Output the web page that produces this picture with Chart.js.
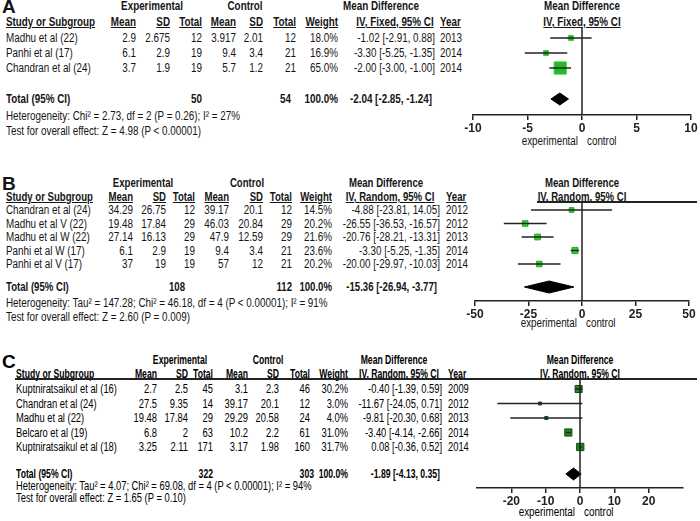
<!DOCTYPE html>
<html>
<head>
<meta charset="utf-8">
<script src="https://cdn.jsdelivr.net/npm/chart.js@4"></script>
<style>
  html, body { margin: 0; padding: 0; background: #fff; }
  #page { position: relative; width: 700px; height: 521px; overflow: hidden;
          font-family: 'Liberation Sans', Arial, sans-serif; color: #151515; }
  .t { position: absolute; white-space: nowrap; font-size: 12px; line-height: 14px; }
  .b { font-weight: bold; }
  .u { text-decoration: underline; }
  .rule { position: absolute; background: #222; }
  canvas { position: absolute; }
</style>
</head>
<body>
<div id="page"></div>
<script>
// ---- Panel A data (IV, Fixed) ----
const studiesA = ['Madhu et al (22)', 'Panhi et al  (17)', 'Chandran et al (24)'];
const expMeanA = [2.9, 6.1, 3.7];
const expSdA = [2.675, 2.9, 1.9];
const expNA = [12, 19, 19];
const ctlMeanA = [3.917, 9.4, 5.7];
const ctlSdA = [2.01, 3.4, 1.2];
const ctlNA = [12, 21, 21];
const weightA = [18.0, 16.9, 65.0];
const mdA = [-1.02, -3.30, -2.00];
const loA = [-2.91, -5.25, -3.00];
const hiA = [0.88, -1.35, -1.00];
const yearA = [2013, 2014, 2014];
const totalNA = [50, 54];
const totalMdA = [-2.04, -2.85, -1.24];
const ticksA = [-10, -5, 0, 5, 10];

// ---- Panel B data (IV, Random) ----
const studiesB = ['Chandran et al (24)', 'Madhu et al V  (22)', 'Madhu et al W (22)', 'Panhi et al  W (17)', 'Panhi et al V (17)'];
const expMeanB = [34.29, 19.48, 27.14, 6.1, 37];
const expSdB = [26.75, 17.84, 16.13, 2.9, 19];
const expNB = [12, 29, 29, 19, 19];
const ctlMeanB = [39.17, 46.03, 47.9, 9.4, 57];
const ctlSdB = [20.1, 20.84, 12.59, 3.4, 12];
const ctlNB = [12, 29, 29, 21, 21];
const weightB = [14.5, 20.2, 21.6, 23.6, 20.2];
const mdB = [-4.88, -26.55, -20.76, -3.30, -20.00];
const loB = [-23.81, -36.53, -28.21, -5.25, -29.97];
const hiB = [14.05, -16.57, -13.31, -1.35, -10.03];
const yearB = [2012, 2012, 2013, 2014, 2014];
const totalNB = [108, 112];
const totalMdB = [-15.36, -26.94, -3.77];
const ticksB = [-50, -25, 0, 25, 50];

// ---- Panel C data (IV, Random) ----
const studiesC = ['Kuptniratsaikul et al (16)', 'Chandran et al (24)', 'Madhu et al (22)', 'Belcaro et al (19)', 'Kuptniratsaikul et al (18)'];
const expMeanC = [2.7, 27.5, 19.48, 6.8, 3.25];
const expSdC = [2.5, 9.35, 17.84, 2, 2.11];
const expNC = [45, 14, 29, 63, 171];
const ctlMeanC = [3.1, 39.17, 29.29, 10.2, 3.17];
const ctlSdC = [2.3, 20.1, 20.58, 2.2, 1.98];
const ctlNC = [46, 12, 24, 61, 160];
const weightC = [30.2, 3.0, 4.0, 31.0, 31.7];
const mdC = [-0.40, -11.67, -9.81, -3.40, 0.08];
const loC = [-1.39, -24.05, -20.30, -4.14, -0.36];
const hiC = [0.59, 0.71, 0.68, -2.66, 0.52];
const yearC = [2009, 2012, 2013, 2014, 2014];
const totalNC = [322, 303];
const totalMdC = [-1.89, -4.13, 0.35];
const ticksC = [-20, -10, 0, 10, 20];

const page = document.getElementById('page');

// text helper; sx squeezes the glyphs to get the narrow look of the original
function txt(s, x, y, align, cls, sx) {
  const d = document.createElement('div');
  d.className = 't ' + (cls || '');
  d.textContent = s;
  d.style.left = x + 'px';
  d.style.top = (y - 7) + 'px';
  if (align === 'right') {
    d.style.transformOrigin = '100% 50%';
    d.style.transform = `translateX(-100%) scaleX(${sx})`;
  } else if (align === 'center') {
    d.style.transformOrigin = '50% 50%';
    d.style.transform = `translateX(-50%) scaleX(${sx})`;
  } else {
    d.style.transformOrigin = '0 50%';
    d.style.transform = `scaleX(${sx})`;
  }
  page.appendChild(d);
  return d;
}

function rule(x1, x2, y, h) {
  const d = document.createElement('div');
  d.className = 'rule';
  d.style.left = x1 + 'px';
  d.style.width = (x2 - x1) + 'px';
  d.style.top = (y - h / 2) + 'px';
  d.style.height = h + 'px';
  page.appendChild(d);
}

const ci = (m, l, h) => `${m.toFixed(2)} [${l.toFixed(2)}, ${h.toFixed(2)}]`;

function drawPanel(p) {
  const L = p.layout;
  const R = p.sxReg, B = p.sxBold;
  const rowY = p.studies.map((_, i) => L.row0 + i * L.rowH);
  const start = page.children.length;

  // title + headers
  const ttl = txt(p.label, L.title[0], L.title[1], 'left', 'b', 1);
  ttl.style.fontSize = '19px';
  ttl.style.lineHeight = '16px';
  ttl.style.top = (L.title[1] - 8) + 'px';
  txt('Experimental', L.expC, L.h1, 'center', 'b', B);
  txt('Control', L.ctlC, L.h1, 'center', 'b', B);
  txt('Mean Difference', L.mdC, L.h1, 'center', 'b', B);
  txt('Mean Difference', L.plotC, L.h1, 'center', 'b', B);
  txt('Study or Subgroup', L.studyX, L.h2, 'left', 'b u', B);
  ['Mean', 'SD', 'Total', 'Mean', 'SD', 'Total', 'Weight'].forEach((h, j) =>
    txt(h, L.colR[j], L.h2, 'right', 'b u', B));
  txt(p.method, L.ivC, L.h2, 'center', 'b u', B);
  txt('Year', L.yearX, L.h2, 'left', 'b u', B);
  txt(p.method, L.plotC, L.h2, 'center', 'b u', B);
  if (L.rule) rule(L.rule[0], L.rule[1], L.rule[2], L.rule[3]);

  // study rows
  p.studies.forEach((s, i) => {
    const y = rowY[i];
    txt(s, L.studyX, y, 'left', '', R);
    const cells = [p.expMean[i], p.expSd[i], p.expN[i], p.ctlMean[i], p.ctlSd[i], p.ctlN[i], p.weight[i].toFixed(1) + '%'];
    cells.forEach((c, j) => txt(String(c), L.colR[j], y, 'right', '', R));
    txt(ci(p.md[i], p.lo[i], p.hi[i]), L.ciR, y, 'right', '', R);
    txt(String(p.year[i]), L.yearX, y, 'left', '', R);
  });

  // total row
  txt('Total (95% CI)', L.studyX, L.totY, 'left', 'b', B);
  txt(String(p.totalN[0]), L.totR[0], L.totY, 'right', 'b', B);
  txt(String(p.totalN[1]), L.totR[1], L.totY, 'right', 'b', B);
  txt('100.0%', L.totR[2], L.totY, 'right', 'b', B);
  txt(ci(p.totalMd[0], p.totalMd[1], p.totalMd[2]), L.totR[3], L.totY, 'right', 'b', B);
  txt(p.het, L.studyX, L.hetY, 'left', '', R);
  txt(p.test, L.studyX, L.testY, 'left', '', R);

  // favours labels
  txt('experimental', L.zeroX - 5, L.labY, 'right', '', 0.82);
  txt('control', L.zeroX + 4, L.labY, 'left', '', 0.82);

  if (p.textColor) {
    for (let k = start; k < page.children.length; k++) page.children[k].style.color = p.textColor;
  }

  // forest plot canvas
  const pad = 25, padTop = 12, axisH = 30;
  const w = L.xRight - L.xLeft + 2 * pad;
  const h = L.yAxis - L.yTop + padTop + axisH;
  const cv = document.createElement('canvas');
  cv.width = w; cv.height = h;
  cv.style.width = w + 'px'; cv.style.height = h + 'px';
  cv.style.left = (L.xLeft - pad) + 'px';
  cv.style.top = (L.yTop - padTop) + 'px';
  page.appendChild(cv);

  const line = { type: 'line', borderColor: '#222', borderWidth: 1.5, pointRadius: 0, fill: false, clip: false };
  const datasets = [];
  datasets.push(Object.assign({}, line, { data: [{ x: 0, y: L.yTop }, { x: 0, y: L.yAxis }] }));
  p.lo.forEach((l, i) => datasets.push(Object.assign({}, line, {
    data: [{ x: l, y: rowY[i] }, { x: p.hi[i], y: rowY[i] }]
  })));
  datasets.push({
    type: 'scatter',
    data: p.md.map((m, i) => ({ x: m, y: rowY[i] })),
    pointStyle: 'rect',
    pointRadius: p.weight.map(wt => (0.15 * wt + 2.5) / Math.SQRT2),
    backgroundColor: p.fillColor,
    borderColor: p.edgeColor,
    borderWidth: 1,
    clip: false
  });
  const [tm, tl, th] = p.totalMd;
  datasets.push({
    type: 'line',
    data: [{ x: tl, y: L.totY }, { x: tm, y: L.totY - 6 }, { x: th, y: L.totY }, { x: tm, y: L.totY + 6 }, { x: tl, y: L.totY }],
    borderColor: '#000', borderWidth: 1, backgroundColor: '#000', fill: 'shape', pointRadius: 0, clip: false
  });

  new Chart(cv, {
    type: 'scatter',
    data: { datasets },
    options: {
      responsive: false,
      animation: false,
      devicePixelRatio: 1,
      layout: { padding: { left: pad, right: pad, top: padTop, bottom: 0 } },
      plugins: { legend: { display: false }, tooltip: { enabled: false } },
      scales: {
        x: {
          type: 'linear', min: p.xMin, max: p.xMax, position: 'bottom',
          afterBuildTicks: s => { s.ticks = p.ticks.map(v => ({ value: v })); },
          afterFit: s => { s.height = axisH; },
          border: { display: true, color: '#222', width: 1.5 },
          grid: { display: true, drawOnChartArea: false, drawTicks: true, tickLength: 5, color: '#222', lineWidth: 1.5 },
          ticks: { color: '#222', padding: 1, autoSkip: false, maxRotation: 0,
                   font: { family: 'Liberation Sans', size: 12, weight: 'bold' } }
        },
        y: { type: 'linear', display: false, reverse: true, min: L.yTop, max: L.yAxis }
      }
    }
  });
}

drawPanel({
  label: 'A', method: 'IV, Fixed, 95% CI', sxReg: 0.82, sxBold: 0.82,
  studies: studiesA, expMean: expMeanA, expSd: expSdA, expN: expNA,
  ctlMean: ctlMeanA, ctlSd: ctlSdA, ctlN: ctlNA, weight: weightA,
  md: mdA, lo: loA, hi: hiA, year: yearA, totalN: totalNA, totalMd: totalMdA,
  ticks: ticksA, xMin: -10, xMax: 10,
  het: 'Heterogeneity: Chi² = 2.73, df = 2 (P = 0.26); I² = 27%',
  test: 'Test for overall effect: Z = 4.98 (P < 0.00001)',
  fillColor: '#26b526', edgeColor: '#3fd33f',
  layout: { title: [2, 7], h1: 6, h2: 22, studyX: 6, colR: [136, 170, 202, 236, 263, 296, 338],
            ciR: 435, yearX: 440, expC: 152, ctlC: 245, mdC: 381, ivC: 395, plotC: 582,
            row0: 38, rowH: 15, totY: 99, totR: [202, 291, 338, 432], hetY: 116, testY: 131,
            xLeft: 473, xRight: 691, zeroX: 583, yTop: 27, yAxis: 115, labY: 141, rule: null }
});

drawPanel({
  label: 'B', method: 'IV, Random, 95% CI', sxReg: 0.82, sxBold: 0.8,
  studies: studiesB, expMean: expMeanB, expSd: expSdB, expN: expNB,
  ctlMean: ctlMeanB, ctlSd: ctlSdB, ctlN: ctlNB, weight: weightB,
  md: mdB, lo: loB, hi: hiB, year: yearB, totalN: totalNB, totalMd: totalMdB,
  ticks: ticksB, xMin: -50, xMax: 50,
  het: 'Heterogeneity: Tau² = 147.28; Chi² = 46.18, df = 4 (P < 0.00001); I² = 91%',
  test: 'Test for overall effect: Z = 2.60 (P = 0.009)',
  fillColor: '#33cc33', edgeColor: '#22aa22',
  layout: { title: [2, 184], h1: 183, h2: 197, studyX: 6, colR: [133, 166, 195, 229, 263, 292, 332],
            ciR: 440, yearX: 446, expC: 143, ctlC: 247, mdC: 386, ivC: 390, plotC: 582,
            row0: 210, rowH: 13.5, totY: 287, totR: [185, 292, 332, 437], hetY: 303, testY: 317,
            xLeft: 475, xRight: 689, zeroX: 582, yTop: 203, yAxis: 301, labY: 323, rule: [537, 697, 202, 1.5] }
});

drawPanel({
  label: 'C', method: 'IV, Random, 95% CI', sxReg: 0.78, sxBold: 0.72, textColor: '#000',
  studies: studiesC, expMean: expMeanC, expSd: expSdC, expN: expNC,
  ctlMean: ctlMeanC, ctlSd: ctlSdC, ctlN: ctlNC, weight: weightC,
  md: mdC, lo: loC, hi: hiC, year: yearC, totalN: totalNC, totalMd: totalMdC,
  ticks: ticksC, xMin: -30, xMax: 30,
  het: 'Heterogeneity: Tau² = 4.07; Chi² = 69.08, df = 4 (P < 0.00001); I² = 94%',
  test: 'Test for overall effect: Z = 1.65 (P = 0.10)',
  fillColor: '#1f8a1f', edgeColor: '#114411',
  layout: { title: [2, 362], h1: 360, h2: 374, studyX: 16, colR: [157, 188, 213, 248, 279, 310, 348],
            ciR: 442, yearX: 448, expC: 180, ctlC: 268, mdC: 394, ivC: 399, plotC: 580,
            row0: 389, rowH: 14.5, totY: 474, totR: [213, 314, 348, 440], hetY: 486, testY: 498,
            xLeft: 477, xRight: 683, zeroX: 580, yTop: 379, yAxis: 488, labY: 512, rule: [15, 697, 379, 2] }
});
</script>
</body>
</html>
